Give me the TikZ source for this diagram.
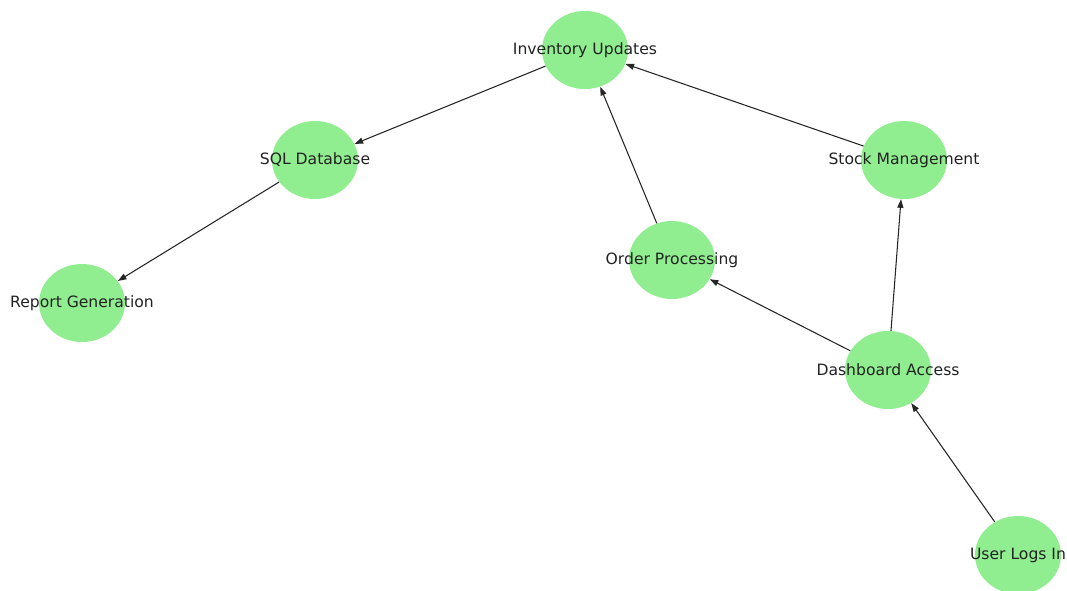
\documentclass[tikz,border=0pt]{standalone}
\usepackage{fontspec}
\setmainfont{DejaVu Sans}
\usetikzlibrary{positioning, arrows.meta, shapes.geometric}
\definecolor{nodegreen}{HTML}{90EE90}
\definecolor{labelgray}{HTML}{222222}

\begin{document}
\begin{tikzpicture}[x=0.75pt, y=-0.75pt,
    state/.style={ellipse, fill=nodegreen, draw=none, minimum width=64.5pt, minimum height=58.5pt, inner sep=0pt},
    txt/.style={font=\fontsize{11.7}{13}\selectfont, text=labelgray},
    flow/.style={-{Triangle[length=6.5pt, width=4.5pt]}, thick, black!85}]
  \useasboundingbox (0,0) rectangle (1067,590);

  % States
  \node[state, label={[txt]center:Inventory Updates}] (inv) at (585,50) {};
  \node[state, label={[txt]center:SQL Database}] (sql) at (315,160) {};
  \node[state, label={[txt]center:Stock Management}] (stock) at (904,160) {};
  \node[state, label={[txt]center:Order Processing}] (order) at (672,260) {};
  \node[state, label={[txt]center:Report Generation}] (report) at (82,303) {};
  \node[state, label={[txt]center:Dashboard Access}] (dash) at (888,370) {};
  \node[state, label={[txt]center:User Logs In}] (user) at (1018,555) {};

  % Flows
  \draw[flow] (inv) -- (sql);
  \draw[flow] (order) -- (inv);
  \draw[flow] (stock) -- (inv);
  \draw[flow] (sql) -- (report);
  \draw[flow] (dash) -- (order);
  \draw[flow] (dash) -- (stock);
  \draw[flow] (user) -- (dash);
\end{tikzpicture}
\end{document}
